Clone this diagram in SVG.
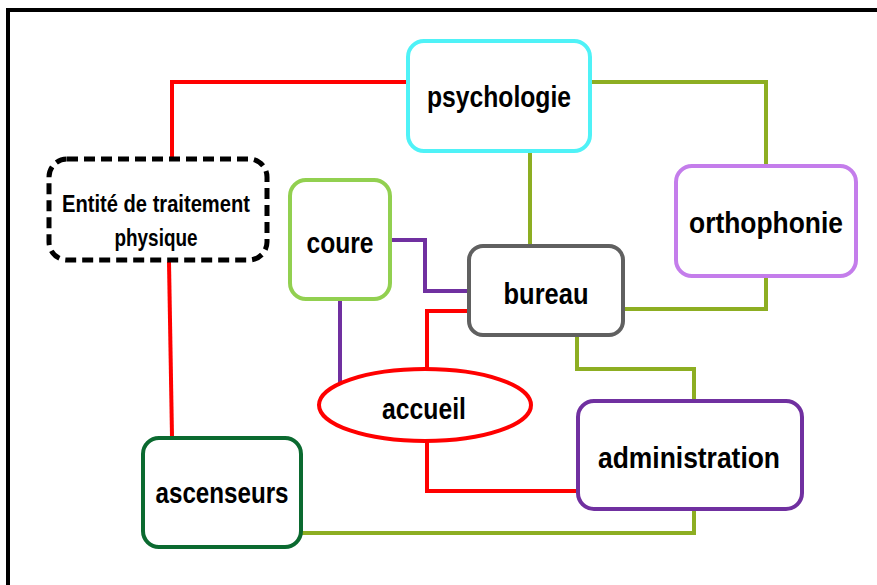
<svg xmlns="http://www.w3.org/2000/svg" width="877" height="585" viewBox="0 0 877 585">
<style>
.box{fill:#fff;stroke-width:4}
.t{font-family:"Liberation Sans",Arial,sans-serif;font-weight:bold;font-size:30px;fill:#000;text-anchor:middle}
.ts{font-size:23px}
.c{fill:none;stroke-width:4;stroke-linejoin:miter;stroke-linecap:butt}
.red{stroke:#ff0000}
.pur{stroke:#7030a0}
.olv{stroke:#8dae22}
</style>
<rect x="0" y="0" width="877" height="585" fill="#fff"/>
<rect x="8" y="10" width="900" height="600" fill="none" stroke="#000" stroke-width="4"/>
<g id="connectors">
<path class="c red" d="M408,82 H172 V157"/>
<path class="c red" d="M169,262 L172,437"/>
<path class="c red" d="M468,311 H427 V369"/>
<path class="c red" d="M427,442 V491 H577" stroke-width="5"/>
<path class="c pur" d="M390,240 H425 V291 H468"/>
<path class="c pur" d="M340,300 V383"/>
<path class="c olv" d="M530,152 V246"/>
<path class="c olv" d="M590,82 H766 V165"/>
<path class="c olv" d="M766,277 V309 H624"/>
<path class="c olv" d="M577,336 V369 H694 V400"/>
<path class="c olv" d="M694,510 V533 H302"/>
</g>
<g id="psychologie">
<rect class="box" x="408" y="41" width="182" height="110" rx="16" stroke="#4ff2f7"/>
<text class="t" x="499" y="107" textLength="144" lengthAdjust="spacingAndGlyphs">psychologie</text>
</g>
<g id="orthophonie">
<rect class="box" x="676" y="166" width="180" height="110" rx="16" stroke="#c47deb"/>
<text class="t" x="766" y="233" textLength="154" lengthAdjust="spacingAndGlyphs">orthophonie</text>
</g>
<g id="entite">
<rect x="49" y="159" width="218" height="101" rx="18" fill="#fff" stroke="#000" stroke-width="5" stroke-dasharray="11,6"/>
<text class="t ts" x="156" y="212" textLength="188" lengthAdjust="spacingAndGlyphs">Entité de traitement</text>
<text class="t ts" x="156" y="246" textLength="83" lengthAdjust="spacingAndGlyphs">physique</text>
</g>
<g id="coure">
<rect class="box" x="290" y="180" width="100" height="119" rx="16" stroke="#92d050"/>
<text class="t" x="340" y="253" textLength="67" lengthAdjust="spacingAndGlyphs">coure</text>
</g>
<g id="bureau">
<rect class="box" x="469" y="246" width="154" height="89" rx="14" stroke="#606060"/>
<text class="t" x="546" y="304" textLength="85" lengthAdjust="spacingAndGlyphs">bureau</text>
</g>
<g id="accueil">
<ellipse cx="425" cy="405" rx="106" ry="36" fill="#fff" stroke="#ff0000" stroke-width="4"/>
<text class="t" x="424" y="419" textLength="84" lengthAdjust="spacingAndGlyphs">accueil</text>
</g>
<g id="administration">
<rect class="box" x="578" y="401" width="224" height="108" rx="16" stroke="#7030a0"/>
<text class="t" x="689" y="468" textLength="182" lengthAdjust="spacingAndGlyphs">administration</text>
</g>
<g id="ascenseurs">
<rect class="box" x="143" y="438" width="158" height="109" rx="16" stroke="#0b6a30"/>
<text class="t" x="222" y="503" textLength="133" lengthAdjust="spacingAndGlyphs">ascenseurs</text>
</g>
</svg>
